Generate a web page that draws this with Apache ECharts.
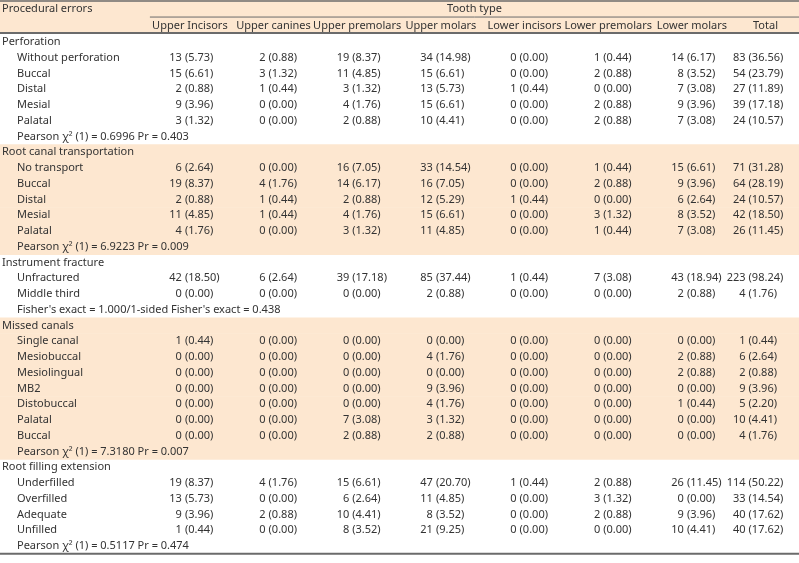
<!DOCTYPE html>
<html><head><meta charset="utf-8">
<script src="https://cdn.jsdelivr.net/npm/echarts@6/dist/echarts.min.js"></script>
<style>html,body{margin:0;padding:0;background:#fff}#c{width:799px;height:563px}</style>
</head><body><div id="c"></div>
<script>
// ---------- DATA ----------
const stubTitle = 'Procedural errors';
const spannerTitle = 'Tooth type';
const toothTypes = ['Upper Incisors','Upper canines','Upper premolars','Upper molars','Lower incisors','Lower premolars','Lower molars','Total'];
const groupNames = ['Perforation','Root canal transportation','Instrument fracture','Missed canals','Root filling extension'];

const perforationLabels = ['Without perforation','Buccal','Distal','Mesial','Palatal'];
const perforationCounts = [
  [13,2,19,34,0,1,14,83],
  [15,3,11,15,0,2,8,54],
  [2,1,3,13,1,0,7,27],
  [9,0,4,15,0,2,9,39],
  [3,0,2,10,0,2,7,24]
];
const perforationPct = [
  [5.73,0.88,8.37,14.98,0.00,0.44,6.17,36.56],
  [6.61,1.32,4.85,6.61,0.00,0.88,3.52,23.79],
  [0.88,0.44,1.32,5.73,0.44,0.00,3.08,11.89],
  [3.96,0.00,1.76,6.61,0.00,0.88,3.96,17.18],
  [1.32,0.00,0.88,4.41,0.00,0.88,3.08,10.57]
];
const perforationTest = 'Pearson \u03c7\u00b2 (1) = 0.6996 Pr = 0.403';

const transportLabels = ['No transport','Buccal','Distal','Mesial','Palatal'];
const transportCounts = [
  [6,0,16,33,0,1,15,71],
  [19,4,14,16,0,2,9,64],
  [2,1,2,12,1,0,6,24],
  [11,1,4,15,0,3,8,42],
  [4,0,3,11,0,1,7,26]
];
const transportPct = [
  [2.64,0.00,7.05,14.54,0.00,0.44,6.61,31.28],
  [8.37,1.76,6.17,7.05,0.00,0.88,3.96,28.19],
  [0.88,0.44,0.88,5.29,0.44,0.00,2.64,10.57],
  [4.85,0.44,1.76,6.61,0.00,1.32,3.52,18.50],
  [1.76,0.00,1.32,4.85,0.00,0.44,3.08,11.45]
];
const transportTest = 'Pearson \u03c7\u00b2 (1) = 6.9223 Pr = 0.009';

const fractureLabels = ['Unfractured','Middle third'];
const fractureCounts = [
  [42,6,39,85,1,7,43,223],
  [0,0,0,2,0,0,2,4]
];
const fracturePct = [
  [18.50,2.64,17.18,37.44,0.44,3.08,18.94,98.24],
  [0.00,0.00,0.00,0.88,0.00,0.00,0.88,1.76]
];
const fractureTest = "Fisher's exact = 1.000/1-sided Fisher's exact = 0.438";

const missedLabels = ['Single canal','Mesiobuccal','Mesiolingual','MB2','Distobuccal','Palatal','Buccal'];
const missedCounts = [
  [1,0,0,0,0,0,0,1],
  [0,0,0,4,0,0,2,6],
  [0,0,0,0,0,0,2,2],
  [0,0,0,9,0,0,0,9],
  [0,0,0,4,0,0,1,5],
  [0,0,7,3,0,0,0,10],
  [0,0,2,2,0,0,0,4]
];
const missedPct = [
  [0.44,0.00,0.00,0.00,0.00,0.00,0.00,0.44],
  [0.00,0.00,0.00,1.76,0.00,0.00,0.88,2.64],
  [0.00,0.00,0.00,0.00,0.00,0.00,0.88,0.88],
  [0.00,0.00,0.00,3.96,0.00,0.00,0.00,3.96],
  [0.00,0.00,0.00,1.76,0.00,0.00,0.44,2.20],
  [0.00,0.00,3.08,1.32,0.00,0.00,0.00,4.41],
  [0.00,0.00,0.88,0.88,0.00,0.00,0.00,1.76]
];
const missedTest = 'Pearson \u03c7\u00b2 (1) = 7.3180 Pr = 0.007';

const fillingLabels = ['Underfilled','Overfilled','Adequate','Unfilled'];
const fillingCounts = [
  [19,4,15,47,1,2,26,114],
  [13,0,6,11,0,3,0,33],
  [9,2,10,8,0,2,9,40],
  [1,0,8,21,0,0,10,40]
];
const fillingPct = [
  [8.37,1.76,6.61,20.70,0.44,0.88,11.45,50.22],
  [5.73,0.00,2.64,4.85,0.00,1.32,0.00,14.54],
  [3.96,0.88,4.41,3.52,0.00,0.88,3.96,17.62],
  [0.44,0.00,3.52,9.25,0.00,0.00,4.41,17.62]
];
const fillingTest = 'Pearson \u03c7\u00b2 (1) = 0.5117 Pr = 0.474';

// ---------- BUILD ROWS ----------
const groups = [
  [perforationLabels, perforationCounts, perforationPct, perforationTest],
  [transportLabels, transportCounts, transportPct, transportTest],
  [fractureLabels, fractureCounts, fracturePct, fractureTest],
  [missedLabels, missedCounts, missedPct, missedTest],
  [fillingLabels, fillingCounts, fillingPct, fillingTest]
];
const rows = [];
groups.forEach((g, gi) => {
  const shaded = gi % 2 === 1;
  rows.push({kind:'group', text: groupNames[gi], shaded});
  g[0].forEach((lab, i) => rows.push({kind:'item', text: lab, counts: g[1][i], pct: g[2][i], shaded}));
  rows.push({kind:'item', text: g[3], shaded});
});

const labelData = rows.map((r, i) => [0, i]);
const shadeData = rows.map((r, i) => r.shaded ? [0, i] : null).filter(Boolean);
const cellData = [];
rows.forEach((r, i) => { if (r.counts) r.counts.forEach((c, j) => cellData.push([j, i])); });

// ---------- STYLE ----------
const FONT = '11px "Noto Sans"';
const TXT = '#333';
const PEACH = '#fde7d0';
const RULE = '#6b6b6b';

const chart = echarts.init(document.getElementById('c'), null, {renderer:'canvas'});

function rowTop(api, r) { return api.coord([0, r])[1]; }

chart.setOption({
  animation: false,
  backgroundColor: '#fff',
  grid: {left: 0, right: 0, top: 0, bottom: 0},
  xAxis: {type: 'value', min: -2.21, max: 7.34, show: false},
  yAxis: {type: 'value', inverse: true, min: -2.165, max: 33.58, show: false},
  series: [
    { // header block + rules
      type: 'custom', silent: true, clip: false, z: 1,
      data: [[0, 0]],
      renderItem: function (params, api) {
        const cs = params.coordSys;
        const headBottom = rowTop(api, 0) - 1;
        const top = cs.y + 1;
        const mid = (top + headBottom) / 2;
        const bodyBottom = rowTop(api, rows.length);
        const spanLeft = api.coord([0, 0])[0] - 35;
        const right = cs.x + cs.width;
        const els = [
          {type:'rect', shape:{x: cs.x, y: cs.y, width: cs.width, height: headBottom - cs.y}, style:{fill: PEACH}},
          {type:'line', shape:{x1: cs.x, y1: top, x2: right, y2: top}, style:{stroke: RULE, lineWidth: 1.5}},
          {type:'line', shape:{x1: spanLeft, y1: mid, x2: right, y2: mid}, style:{stroke: RULE, lineWidth: 1}},
          {type:'line', shape:{x1: cs.x, y1: headBottom, x2: right, y2: headBottom}, style:{stroke: RULE, lineWidth: 2}},
          {type:'line', shape:{x1: cs.x, y1: bodyBottom, x2: right, y2: bodyBottom}, style:{stroke: RULE, lineWidth: 2}},
          {type:'text', x: cs.x + 2, y: (top + mid) / 2, style:{text: stubTitle, font: FONT, fill: TXT, align:'left', verticalAlign:'middle'}},
          {type:'text', x: (spanLeft + right) / 2, y: (top + mid) / 2, style:{text: spannerTitle, font: FONT, fill: TXT, align:'center', verticalAlign:'middle'}}
        ];
        toothTypes.forEach((t, j) => {
          const isTotal = j === toothTypes.length - 1;
          const x = isTotal ? right - 21 : api.coord([j, 0])[0] + 5;
          els.push({type:'text', x: x, y: (mid + headBottom) / 2 + 1,
            style:{text: t, font: FONT, fill: TXT, align: isTotal ? 'right' : 'center', verticalAlign:'middle'}});
        });
        return {type:'group', children: els};
      }
    },
    { // shaded group rows
      type: 'custom', silent: true, clip: false, z: 0,
      data: shadeData,
      renderItem: function (params, api) {
        const cs = params.coordSys;
        const r = api.value(1);
        const y0 = rowTop(api, r), y1 = rowTop(api, r + 1);
        return {type:'rect', shape:{x: cs.x, y: y0, width: cs.width, height: y1 - y0 + 0.5}, style:{fill: PEACH}};
      }
    },
    { // stub labels
      type: 'custom', silent: true, clip: false, z: 2,
      data: labelData,
      renderItem: function (params, api) {
        const cs = params.coordSys;
        const r = api.value(1);
        const row = rows[r];
        const y = api.coord([0, r + 0.5])[1];
        return {type:'text', x: cs.x + (row.kind === 'group' ? 2 : 17), y: y,
          style:{text: row.text, font: FONT, fill: TXT, align:'left', verticalAlign:'middle'}};
      }
    },
    { // value cells: count (pct), aligned on the parenthesis
      type: 'custom', silent: true, clip: false, z: 2,
      data: cellData,
      renderItem: function (params, api) {
        const j = api.value(0), r = api.value(1);
        const row = rows[r];
        const p = api.coord([j, r + 0.5]);
        const x = p[0] + (j === toothTypes.length - 1 ? -22 : 0);
        return {type:'group', children: [
          {type:'text', x: x - 3, y: p[1], style:{text: String(row.counts[j]), font: FONT, fill: TXT, align:'right', verticalAlign:'middle'}},
          {type:'text', x: x, y: p[1], style:{text: '(' + row.pct[j].toFixed(2) + ')', font: FONT, fill: TXT, align:'left', verticalAlign:'middle'}}
        ]};
      }
    }
  ]
});
</script>
</body></html>
